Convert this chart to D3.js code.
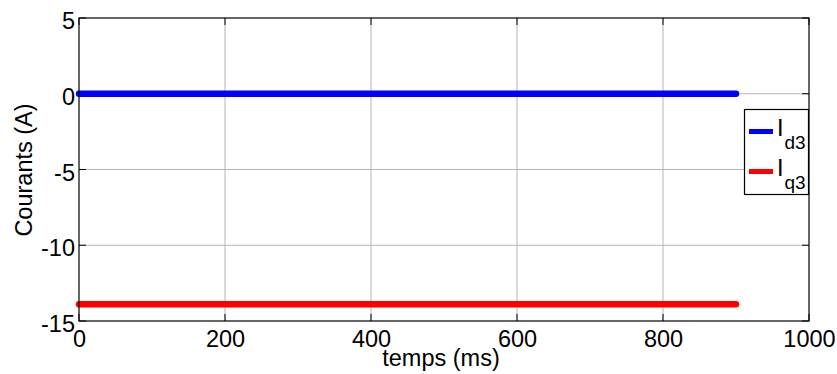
<!DOCTYPE html>
<html>
<head>
<meta charset="utf-8">
<script src="https://cdn.jsdelivr.net/npm/d3@7"></script>
<style>
body { margin: 0; background: #fff; }
svg { display: block; }
text { font-family: "Liberation Sans", Arial, sans-serif; fill: #000; }
</style>
</head>
<body>
<svg id="chart" width="837" height="374"></svg>
<script>
const timeMs = [0, 100, 200, 300, 400, 500, 600, 700, 800, 900];
const Id3 = [0, 0, 0, 0, 0, 0, 0, 0, 0, 0];
const Iq3 = [-13.9, -13.9, -13.9, -13.9, -13.9, -13.9, -13.9, -13.9, -13.9, -13.9];
const xTicks = [0, 200, 400, 600, 800, 1000];
const yTicks = [5, 0, -5, -10, -15];
const seriesNames = ["d3", "q3"];
const seriesColors = ["#0000ff", "#ff0000"];

const FS = 23.5;
const svg = d3.select("#chart");
const L = 79, R = 809, T = 18, B = 321;
const x = d3.scaleLinear().domain([0, 1000]).range([L, R]);
const y = d3.scaleLinear().domain([-15, 5]).range([B, T]);
const fmt = d => String(d);

// grid
const g = svg.append("g");
g.selectAll(".gx").data(xTicks.slice(1, -1)).enter().append("line")
  .attr("x1", d => x(d)).attr("x2", d => x(d)).attr("y1", T).attr("y2", B)
  .attr("stroke", "#b4b4b4").attr("stroke-width", 1);
g.selectAll(".gy").data(yTicks.slice(1, -1)).enter().append("line")
  .attr("x1", L).attr("x2", R).attr("y1", d => y(d)).attr("y2", d => y(d))
  .attr("stroke", "#b4b4b4").attr("stroke-width", 1);

// axes
const xAxis = d3.axisBottom(x).tickValues(xTicks).tickFormat(fmt).tickSize(0).tickPadding(9);
const yAxis = d3.axisLeft(y).tickValues(yTicks).tickFormat(fmt).tickSize(0).tickPadding(3);
const gx = svg.append("g").attr("transform", `translate(0,${B})`).call(xAxis);
gx.select(".domain").remove();
gx.selectAll("text").attr("font-size", FS).attr("font-family", "Liberation Sans, Arial, sans-serif").attr("dy", "0.71em");
const gy = svg.append("g").attr("transform", `translate(${L - 1},0)`).call(yAxis);
gy.select(".domain").remove();
gy.selectAll("text").attr("font-size", FS).attr("font-family", "Liberation Sans, Arial, sans-serif").attr("dy", "0.45em");

// inner ticks
const tk = svg.append("g").attr("stroke", "#000").attr("stroke-width", 1);
xTicks.forEach(d => {
  tk.append("line").attr("x1", x(d)).attr("x2", x(d)).attr("y1", B).attr("y2", B - 7);
  tk.append("line").attr("x1", x(d)).attr("x2", x(d)).attr("y1", T).attr("y2", T + 7);
});
yTicks.forEach(d => {
  tk.append("line").attr("x1", L).attr("x2", L + 7).attr("y1", y(d)).attr("y2", y(d));
  tk.append("line").attr("x1", R).attr("x2", R - 7).attr("y1", y(d)).attr("y2", y(d));
});

// data lines
const line = d3.line().x(d => x(d[0])).y(d => y(d[1]));
[Id3, Iq3].forEach((vals, i) => {
  svg.append("path")
    .datum(timeMs.map((t, k) => [t, vals[k]]))
    .attr("d", line)
    .attr("fill", "none")
    .attr("stroke", seriesColors[i])
    .attr("stroke-width", 6.5)
    .attr("stroke-linecap", "round");
});

// box
svg.append("rect").attr("x", L).attr("y", T).attr("width", R - L).attr("height", B - T)
  .attr("fill", "none").attr("stroke", "#000").attr("stroke-width", 1.2);

// legend
const lg = svg.append("g");
lg.append("rect").attr("x", 744.5).attr("y", 109.5).attr("width", 64).attr("height", 85)
  .attr("fill", "#fff").attr("stroke", "#000").attr("stroke-width", 1.2);
seriesNames.forEach((name, i) => {
  const yy = 131.5 + i * 40;
  lg.append("line").attr("x1", 749).attr("x2", 773).attr("y1", yy).attr("y2", yy)
    .attr("stroke", seriesColors[i]).attr("stroke-width", 5);
  lg.append("circle").attr("cx", 761).attr("cy", yy).attr("r", 1.5).attr("fill", seriesColors[i]);
  const t = lg.append("text").attr("x", 777).attr("y", yy + 4).attr("font-size", FS);
  t.append("tspan").text("I");
  t.append("tspan").attr("dy", 13).attr("dx", 1).attr("font-size", 19).text(name);
});

// axis labels
svg.append("text").attr("x", 441).attr("y", 366).attr("text-anchor", "middle")
  .attr("font-size", FS).text("temps (ms)");
svg.append("text").attr("transform", "translate(32,170) rotate(-90)").attr("text-anchor", "middle")
  .attr("font-size", FS).text("Courants (A)");
</script>
</body>
</html>
